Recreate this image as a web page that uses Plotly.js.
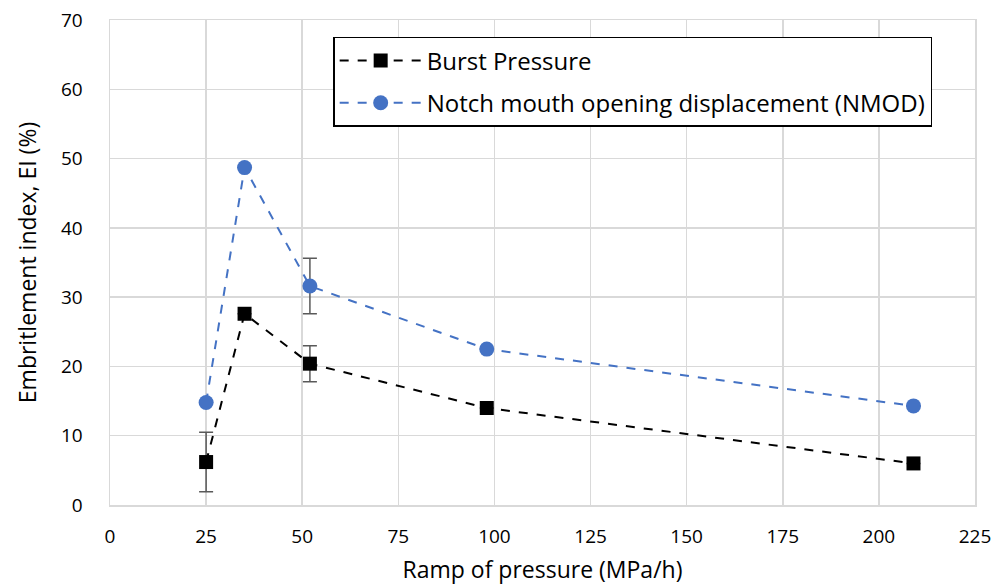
<!DOCTYPE html>
<html><head><meta charset="utf-8">
<script src="https://cdn.plot.ly/plotly-3.0.1.min.js"></script>
<style>html,body{margin:0;padding:0;background:#fff}#chart{width:999px;height:587px}</style>
</head><body><div id="chart"></div>
<script>
const rampX = [25, 35, 52, 98, 209];
const burstY = [6.2, 27.6, 20.4, 14.0, 6.0];
const burstErr = [4.3, 0, 2.6, 0, 0];
const nmodY = [14.8, 48.7, 31.6, 22.5, 14.3];
const nmodErr = [0, 0, 4.0, 0, 0];
const seriesNames = ["Burst Pressure", "Notch mouth opening displacement (NMOD)"];
const xTicks = [0, 25, 50, 75, 100, 125, 150, 175, 200, 225];
const yTicks = [0, 10, 20, 30, 40, 50, 60, 70];

const FONT = "Open Sans, Liberation Sans, sans-serif";
const errStyle = {type: 'data', visible: true, color: '#595959', thickness: 1.5, width: 7};

const traces = [
  {x: rampX, y: burstY, name: seriesNames[0], legendgroup: 'a', mode: 'lines+markers', type: 'scatter',
   line: {color: '#000000', dash: 'dash', width: 2},
   marker: {symbol: 'square', size: 14, color: '#000000'},
   error_y: Object.assign({array: burstErr}, errStyle)},
  {x: rampX, y: nmodY, name: seriesNames[1], legendgroup: 'b', mode: 'lines+markers', type: 'scatter',
   line: {color: '#4472C4', dash: 'dash', width: 2},
   marker: {symbol: 'circle', size: 15, color: '#4472C4'},
   error_y: Object.assign({array: nmodErr}, errStyle)}
];

const layout = {
  width: 999, height: 587,
  margin: {l: 110, r: 24, t: 20, b: 82},
  paper_bgcolor: '#fff', plot_bgcolor: '#fff',
  font: {family: FONT, size: 19, color: '#000'},
  xaxis: {range: [0, 225], tickvals: xTicks, ticktext: xTicks.map(String),
    showgrid: true, gridcolor: '#d9d9d9', gridwidth: 1.5, zeroline: false,
    showline: true, linecolor: '#d9d9d9', linewidth: 1.5, mirror: true,
    ticks: 'outside', ticklen: 14, tickcolor: 'rgba(0,0,0,0)',
    tickfont: {family: FONT, size: 19, color: '#000'},
    title: {text: 'Ramp of pressure (MPa/h)', font: {family: FONT, size: 23, color: '#000'}, standoff: 13}},
  yaxis: {range: [0, 70], tickvals: yTicks, ticktext: yTicks.map(String),
    showgrid: true, gridcolor: '#d9d9d9', gridwidth: 1.5, zeroline: false,
    showline: true, linecolor: '#d9d9d9', linewidth: 1.5, mirror: true,
    ticks: 'outside', ticklen: 22, tickcolor: 'rgba(0,0,0,0)',
    tickfont: {family: FONT, size: 19, color: '#000'},
    title: {text: 'Embritlement index, EI (%)', font: {family: FONT, size: 23, color: '#000'}, standoff: 18}},
  showlegend: true,
  legend: {x: 0.258, y: 0.965, xanchor: 'left', yanchor: 'top',
    bgcolor: '#fff', bordercolor: '#000', borderwidth: 1.5, traceorder: 'grouped',
    font: {family: FONT, size: 24, color: '#000'}, itemwidth: 82, tracegroupgap: 8}
};

Plotly.newPlot('chart', traces, layout, {displayModeBar: false, staticPlot: true});
</script>
</body></html>
